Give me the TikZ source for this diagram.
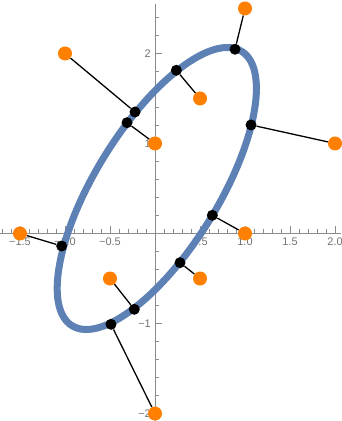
\documentclass[tikz,border=0pt]{standalone}
\usepackage{fontspec}
\setmainfont{Liberation Sans}
\usetikzlibrary{calc}
\definecolor{cblue}{RGB}{94,129,181}
\definecolor{corange}{RGB}{255,128,0}
\definecolor{caxis}{gray}{0.55}
\definecolor{ctext}{gray}{0.45}

\begin{document}
\begin{tikzpicture}[
    x=90pt, y=90pt,
    curve/.style={draw=cblue, line width=7pt},
    axisline/.style={draw=caxis, line width=0.9pt},
    tick/.style={draw=caxis, line width=0.8pt},
    datapt/.style={circle, fill=corange, inner sep=0pt, minimum size=14pt},
    fitpt/.style={circle, fill=black, inner sep=0pt, minimum size=11pt},
    link/.style={draw=black, line width=1.3pt},
    tlabel/.style={font=\fontsize{11}{13}\selectfont, text=ctext, inner sep=1pt}
]
\useasboundingbox (-1.722,-2.083) rectangle (2.067,2.594);

%% Axes with minor and major ticks
\draw[axisline] (-1.722,0) -- (2.067,0);
\draw[axisline] (0,-2.083) -- (0,2.55);
\foreach \t in {-17,...,20}
    \draw[tick] (\t/10,0) -- ++(0,4pt);
\foreach \t in {-1.5,-1,-0.5,0.5,1,1.5,2}
    \draw[tick] (\t,0) -- ++(0,7pt);
\foreach \t in {-10,...,12}
    \draw[tick] (0,\t/5) -- ++(4pt,0);
\foreach \t in {-2,-1,1,2}
    \draw[tick] (0,\t) -- ++(7pt,0);

%% Tick labels
\foreach \t/\s [count=\k] in {-1.5/−1.5,-1/−1.0,-0.5/−0.5,0.5/0.5,1/1.0,1.5/1.5,2/2.0}
    \node[tlabel, below=3pt] (xl\k) at (\t,0) {\s};
\foreach \t/\s [count=\k] in {-2/−2,-1/−1,1/1,2/2}
    \node[tlabel, left=3pt] (yl\k) at (0,\t) {\s};

%% Fitted ellipse
\draw[curve, rotate around={58.3:(0.02,0.5)}] (0.02,0.5) ellipse [x radius=1.792, y radius=0.683];

%% Data points and their nearest points on the curve
\foreach \p/\q [count=\k] in {
    {(-1.5,0)}/{(-1.037,-0.139)},
    {(1,0)}/{(0.637,0.202)},
    {(0,1)}/{(-0.311,1.231)},
    {(-1,2)}/{(-0.222,1.35)},
    {(0.5,1.5)}/{(0.237,1.813)},
    {(1,2.5)}/{(0.889,2.047)},
    {(2,1)}/{(1.067,1.206)},
    {(0.5,-0.5)}/{(0.278,-0.324)},
    {(-0.5,-0.5)}/{(-0.23,-0.842)},
    {(0,-2)}/{(-0.489,-1.009)}} {
    \node[datapt] (d\k) at \p {};
    \node[fitpt] (f\k) at \q {};
    \draw[link] (d\k) -- (f\k);
}

\end{tikzpicture}
\end{document}
